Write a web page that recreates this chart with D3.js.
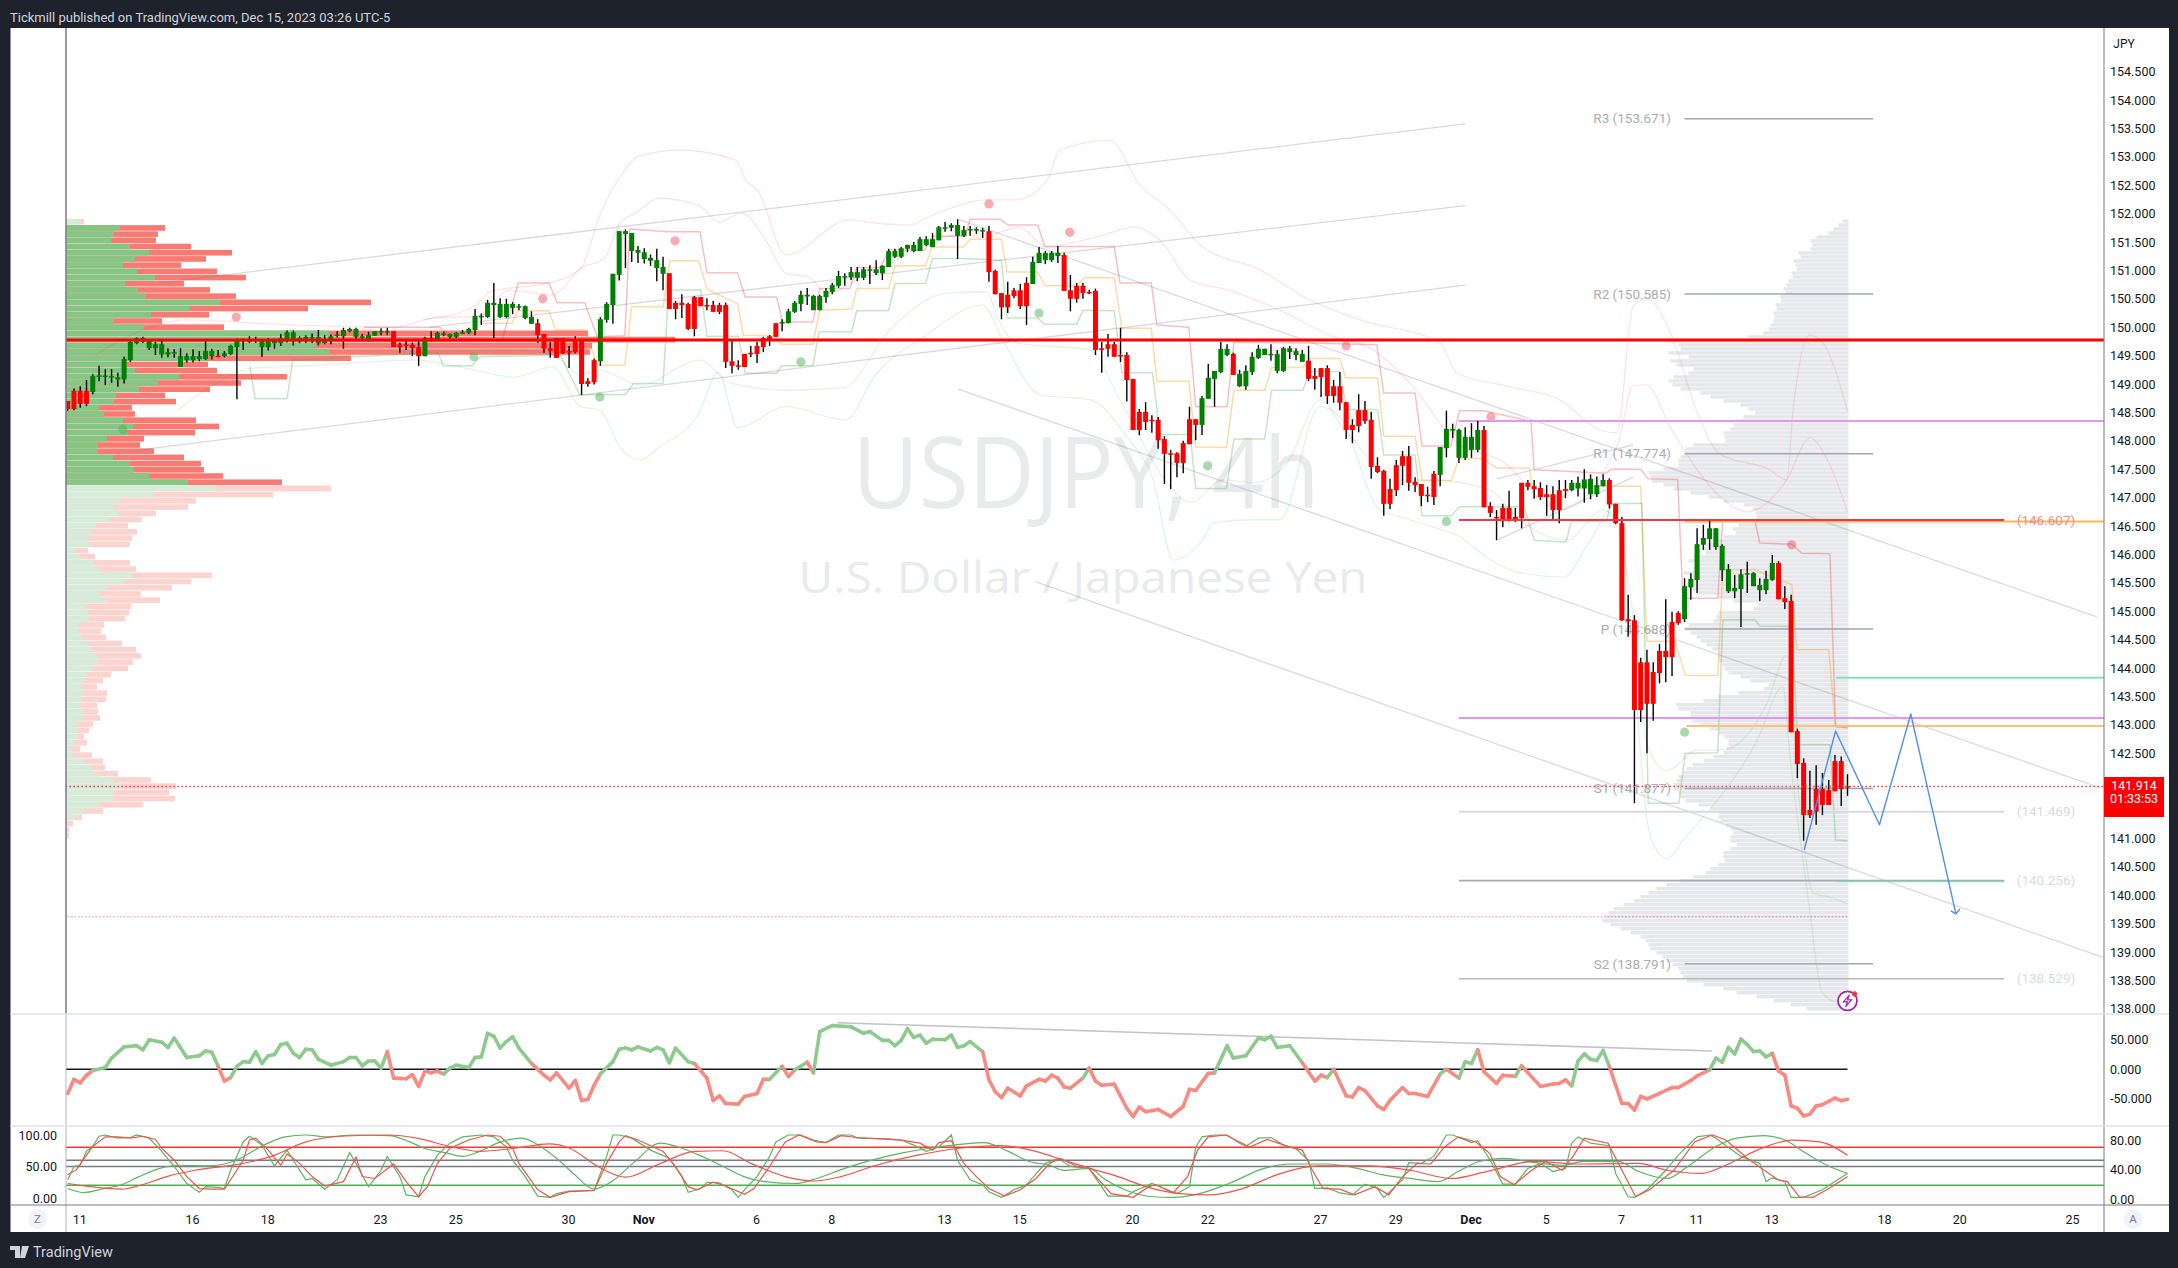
<!DOCTYPE html>
<html>
<head>
<meta charset="utf-8">
<script src="https://cdn.jsdelivr.net/npm/d3@7"></script>
<style>
  html, body { margin: 0; padding: 0; background: #1e222d; overflow: hidden; }
  text { font-family: Roboto, sans-serif; }
</style>
</head>
<body>
<svg id="chart" width="2178" height="1268"></svg>
<script>
// candles, one value per 4h bar
const opens = [
  148.70,148.88,148.88,148.88,148.86,149.14,149.13,149.13,149.08,149.08,
  149.42,149.72,149.74,149.63,149.63,149.52,149.52,149.55,149.30,149.42,
  149.42,149.44,149.44,149.49,149.50,149.49,149.53,149.65,149.77,149.74,
  149.78,149.65,149.65,149.72,149.72,149.76,149.75,149.75,149.79,149.82,
  149.72,149.72,149.76,149.86,149.84,149.93,149.83,149.81,149.79,149.85,
  149.92,149.92,149.93,149.70,149.70,149.69,149.65,149.49,149.81,149.77,
  149.86,149.83,149.83,149.90,149.90,149.95,150.19,150.18,150.39,150.18,
  150.18,150.34,150.36,150.16,150.06,150.07,149.88,149.63,149.81,149.81,
  149.58,149.77,149.78,149.05,149.42,149.40,150.13,150.39,150.92,151.64,
  151.34,151.31,151.20,151.17,151.04,150.94,150.95,150.43,150.43,150.41,
  150.53,150.53,150.39,150.39,150.39,150.39,149.40,149.33,149.53,149.55,
  149.67,149.81,149.84,150.07,150.07,150.07,150.27,150.41,150.54,150.30,
  150.30,150.53,150.62,150.73,150.89,150.88,150.87,150.87,151.01,150.95,
  150.95,151.06,151.24,151.24,151.38,151.34,151.34,151.45,151.41,151.53,
  151.75,151.75,151.61,151.61,151.72,151.70,151.70,151.69,150.99,150.60,
  150.57,150.65,150.65,150.78,150.76,151.13,151.18,151.18,151.25,151.27,
  150.65,150.73,150.73,150.62,150.64,149.63,149.70,149.70,149.51,149.51,
  149.09,148.51,148.51,148.37,148.37,148.03,147.78,147.78,147.96,148.38,
  148.38,148.28,148.74,149.09,149.21,149.51,149.53,148.96,148.96,149.21,
  149.46,149.51,149.52,149.23,149.23,149.56,149.51,149.39,149.41,149.14,
  149.28,149.28,148.96,148.96,148.68,148.28,148.54,148.54,148.37,147.56,
  147.47,147.15,147.57,147.73,147.73,147.28,147.24,147.05,147.42,147.40,
  147.87,148.18,147.70,147.70,147.84,147.84,148.19,146.85,146.66,146.82,
  146.82,146.66,147.26,147.26,147.20,147.17,147.06,147.06,147.13,147.15,
  147.13,147.16,147.16,147.06,147.06,147.20,147.31,146.89,146.55,144.86,
  144.84,144.10,144.10,143.93,144.30,144.30,144.81,144.97,144.86,145.42,
  145.55,146.17,146.27,146.13,145.72,145.35,145.35,145.39,145.65,145.44,
  145.37,145.37,145.55,145.85,145.23,145.18,142.89,142.33,141.50,141.87,
  141.87,141.85,142.36,142.36,141.92
]
const highs = [
  148.70,148.92,148.96,149.07,149.17,149.32,149.26,149.26,149.20,149.48,
  149.79,149.82,149.83,149.79,149.74,149.76,149.63,149.61,149.63,149.54,
  149.61,149.58,149.76,149.62,149.60,149.58,149.69,149.80,149.80,149.84,
  149.83,149.79,149.81,149.80,149.88,149.94,149.94,149.84,149.86,149.89,
  149.95,149.86,149.87,149.93,149.99,149.99,149.99,149.88,149.92,149.93,
  149.98,149.99,149.93,149.73,149.79,149.73,149.76,149.83,149.93,149.92,
  149.92,149.89,149.91,149.95,149.99,150.32,150.24,150.48,150.78,150.51,
  150.50,150.44,150.41,150.38,150.28,150.14,149.88,149.74,149.81,149.81,
  149.67,149.84,149.80,149.10,149.45,150.18,150.44,150.94,151.69,151.72,
  151.66,151.43,151.39,151.28,151.38,151.24,150.95,150.46,150.58,150.43,
  150.55,150.53,150.51,150.46,150.43,150.43,149.76,149.42,149.53,149.67,
  149.74,149.83,149.86,150.07,150.14,150.32,150.46,150.64,150.69,150.57,
  150.57,150.69,150.78,150.99,150.95,151.06,151.06,151.06,151.09,151.18,
  151.09,151.38,151.38,151.41,151.45,151.50,151.59,151.60,151.66,151.78,
  151.85,151.83,151.90,151.78,151.78,151.76,151.75,151.78,151.01,150.60,
  150.80,150.69,150.76,150.88,151.24,151.41,151.34,151.34,151.43,151.31,
  150.92,150.78,150.78,150.66,150.68,149.74,149.88,149.74,149.99,149.56,
  149.09,148.56,148.68,148.45,148.42,148.08,147.84,147.80,148.00,148.60,
  148.38,148.79,149.35,149.23,149.74,149.70,149.55,149.25,149.33,149.56,
  149.69,149.62,149.70,149.60,149.65,149.67,149.63,149.60,149.67,149.28,
  149.28,149.33,149.07,149.21,148.68,148.38,148.82,148.70,148.51,147.71,
  147.49,147.33,147.66,147.82,147.91,147.36,147.24,147.19,147.47,147.89,
  148.53,148.30,148.21,148.24,148.31,148.35,148.26,146.92,146.78,146.89,
  147.12,146.82,147.26,147.31,147.31,147.27,147.22,147.20,147.31,147.31,
  147.31,147.37,147.50,147.41,147.37,147.41,147.34,146.89,146.66,145.29,
  144.93,144.18,144.32,144.10,144.42,145.21,144.99,145.00,145.58,145.67,
  146.46,146.52,146.59,146.46,146.18,145.83,145.64,145.74,145.87,145.69,
  145.58,145.71,145.99,145.88,145.44,145.29,142.93,142.41,142.19,142.29,
  142.15,142.03,142.47,142.44,142.13
]
const lows = [
  148.53,148.54,148.58,148.61,148.82,149.05,148.98,149.02,148.95,149.01,
  149.39,149.70,149.72,149.60,149.51,149.46,149.47,149.46,149.30,149.38,
  149.38,149.40,149.42,149.43,149.47,149.47,149.51,148.73,149.60,149.72,
  149.72,149.48,149.59,149.62,149.67,149.73,149.68,149.72,149.72,149.72,
  149.68,149.70,149.70,149.82,149.62,149.91,149.80,149.77,149.75,149.85,
  149.86,149.86,149.65,149.55,149.60,149.49,149.32,149.49,149.75,149.76,
  149.84,149.79,149.81,149.88,149.88,149.86,150.04,150.16,149.81,150.16,
  150.16,150.23,150.30,150.14,150.06,149.72,149.55,149.46,149.46,149.53,
  149.28,149.54,148.81,148.95,148.99,149.32,150.08,150.06,150.82,151.04,
  151.15,151.13,151.12,151.08,150.81,150.65,150.32,150.14,150.16,149.95,
  149.84,150.37,150.30,150.27,150.23,149.28,149.19,149.25,149.30,149.47,
  149.37,149.56,149.67,149.83,149.93,150.07,150.25,150.28,150.39,150.30,
  150.30,150.43,150.58,150.69,150.73,150.83,150.81,150.83,150.76,150.92,
  150.83,151.06,151.22,151.22,151.32,151.32,151.34,151.43,151.41,151.53,
  151.68,151.69,151.20,151.59,151.61,151.64,151.57,150.80,150.58,150.14,
  150.25,150.51,150.32,150.04,150.76,151.13,151.11,151.15,151.13,150.64,
  150.28,150.43,150.50,150.58,149.51,149.20,149.48,149.48,149.39,148.69,
  148.19,148.10,148.19,148.14,147.86,147.24,147.15,147.36,147.43,147.94,
  148.01,148.10,148.74,148.60,149.19,149.49,149.16,148.95,148.90,149.16,
  149.44,149.51,149.41,149.19,149.21,149.44,149.42,149.39,149.05,148.90,
  148.77,148.65,148.67,148.54,148.03,147.96,148.15,148.30,147.33,147.43,
  146.68,146.80,147.03,147.22,147.12,147.10,146.85,146.92,146.87,147.20,
  147.71,148.05,147.61,147.66,147.70,147.80,146.83,146.66,146.25,146.48,
  146.58,146.57,146.46,147.13,146.98,146.96,146.68,146.62,146.55,146.99,
  147.11,147.02,146.91,146.97,147.01,147.20,146.81,146.53,144.83,144.55,
  141.62,143.05,142.50,143.07,143.73,143.75,143.86,144.76,144.81,145.20,
  145.32,146.08,146.08,146.08,145.53,145.32,145.23,144.72,145.32,145.44,
  145.18,145.30,145.53,145.21,145.04,142.87,142.06,140.96,141.36,141.24,
  141.41,141.59,141.83,141.57,141.75
]
const closes = [
  148.56,148.56,148.65,148.65,149.14,149.15,149.15,149.14,149.12,149.44,
  149.74,149.81,149.81,149.76,149.70,149.70,149.56,149.56,149.49,149.49,
  149.49,149.49,149.58,149.58,149.49,149.54,149.67,149.77,149.78,149.79,
  149.79,149.77,149.77,149.77,149.81,149.91,149.91,149.81,149.83,149.83,
  149.83,149.77,149.84,149.87,149.95,149.97,149.97,149.84,149.86,149.93,
  149.93,149.93,149.65,149.65,149.67,149.63,149.49,149.81,149.79,149.90,
  149.89,149.88,149.90,149.91,149.97,150.20,150.20,150.43,150.43,150.41,
  150.41,150.41,150.37,150.37,150.18,149.86,149.62,149.58,149.46,149.54,
  149.55,149.56,149.00,149.00,149.03,150.14,150.41,150.94,151.69,151.69,
  151.66,151.36,151.32,151.22,151.18,151.06,150.32,150.32,150.39,149.97,
  149.97,150.37,150.37,150.27,150.27,149.39,149.32,149.31,149.30,149.53,
  149.53,149.65,149.76,149.83,150.09,150.28,150.43,150.57,150.57,150.55,
  150.55,150.64,150.74,150.90,150.90,150.97,150.97,151.02,151.02,151.02,
  151.08,151.34,151.34,151.39,151.45,151.45,151.55,151.55,151.55,151.76,
  151.76,151.80,151.80,151.71,151.73,151.73,151.71,150.97,150.58,150.35,
  150.35,150.55,150.37,150.37,151.15,151.31,151.31,151.31,151.31,150.64,
  150.50,150.50,150.60,150.61,149.60,149.60,149.62,149.48,149.50,149.07,
  148.19,148.19,148.33,148.35,148.01,147.77,147.77,147.61,147.61,147.94,
  148.28,148.75,149.11,149.23,149.62,149.62,149.16,149.18,149.23,149.48,
  149.62,149.62,149.53,149.53,149.63,149.63,149.58,149.53,149.09,149.09,
  149.12,148.79,148.79,148.67,148.19,148.19,148.26,148.35,147.54,147.45,
  146.89,146.89,147.13,147.56,147.26,147.22,147.03,147.03,147.01,147.89,
  148.21,148.21,148.19,148.07,148.07,148.19,146.83,146.73,146.65,146.62,
  146.61,146.61,146.64,147.19,147.15,147.01,147.01,146.78,146.78,147.12,
  147.26,147.26,147.32,147.33,147.22,147.31,146.88,146.55,144.84,144.82,
  143.26,143.26,143.37,143.37,143.91,144.19,144.19,144.79,145.44,145.57,
  146.18,146.29,146.46,146.46,146.15,145.74,145.41,145.65,145.67,145.67,
  145.46,145.57,145.85,145.21,145.16,142.87,142.31,141.41,141.41,141.47,
  141.59,141.59,141.83,141.87,141.914
]

const priceTicks = d3.range(138, 154.75, 0.5)
const timeBars = [2,20,32,50,62,80,92,110,122,140,152,170,182,200,212,224,236,248,260,272,290,302,320]
const timeLabels = ['11','16','18','23','25','30','Nov','6','8','13','15','20','22','27','29','Dec','5','7','11','13','18','20','25']

// left volume profile, buy part and whole row
const leftBuy = [13,54,48,45,64,83,69,57,71,89,59,72,80,154,123,85,48,78,263,270,250,264,141,60,69,113,92,73,50,48,33,38,57,67,61,41,32,32,47,64,68,83,122,149,87,54,47,53,43,30,26,22,25,10,14,27,34,67,58,42,33,40,19,22,23,13,13,15,22,26,31,32,26,20,17,16,17,15,13,15,17,12,11,11,9,5,7,17,26,32,48,55,48,47,34,17,9,2,0,0]
const leftTotal = [18,99,92,90,125,166,140,115,151,180,118,144,170,305,242,143,96,158,522,609,526,524,285,142,151,221,175,144,99,110,66,69,130,153,129,78,74,88,118,135,138,157,216,265,207,130,122,90,76,62,71,66,64,22,29,64,70,146,125,106,75,94,65,63,59,38,35,40,56,70,75,67,62,45,37,31,41,40,31,32,34,27,23,18,21,14,26,37,39,52,85,110,103,109,77,37,16,7,3,3]
const leftRowTop = 151.857
const leftRowStep = 0.1092

// right volume profile
const rightVolume = [
  6,10,15,20,32,38,36,38,50,48,55,53,52,57,56,60,62,65,63,68,67,73,72,75,74,
  75,78,80,85,100,182,170,168,180,160,178,172,155,160,175,180,176,168,148,138,125,108,100,93,105,
  113,115,118,125,124,123,155,163,163,168,170,170,185,200,198,197,185,175,158,140,125,105,96,93,92,
  95,110,116,113,125,132,142,146,143,155,160,152,155,165,158,155,160,158,150,130,115,90,95,130,132,
  135,160,163,158,152,148,142,136,130,130,130,126,124,120,108,98,80,85,110,130,145,172,170,158,158,
  156,148,138,130,124,120,120,122,125,135,145,156,162,165,170,172,175,174,170,168,163,150,138,130,130,
  128,122,118,115,118,118,112,118,125,125,124,130,138,143,155,168,182,192,200,208,214,225,235,240,243,
  246,238,228,218,208,203,200,198,192,186,182,176,170,168,165,162,145,125,112,92,75,58,42
]
const rightRowTop = 151.87
const rightRowStep = 0.0704

// step lines [bar, price]
const redStep = [[47.3,150.00],[59.3,150.00],[61.6,149.81],[69.3,149.77],[71.9,150.78],[76.8,150.78],[78.1,150.43],[82.5,150.43],[84.5,149.83],[88.9,149.85],[89.7,151.73],[95.8,151.68],[100.9,151.68],[102,150.96],[106.9,150.96],[108.1,150.53],[113.1,150.53],[114.1,150.09],[118.9,150.09],[120,150.68],[124.8,150.68],[125.9,151.05],[129.6,151.05],[131.2,151.36],[136.8,151.36],[138.1,151.60],[143.2,151.60],[144,151.90],[148.8,151.90],[150,151.80],[154.8,151.80],[155.9,151.42],[167,151.42],[167.9,150.78],[172.9,150.78],[173.8,150.04],[178.9,150.00],[180,148.60],[185,148.60],[186.1,149.74],[198.2,149.72],[208.9,149.69],[210,148.84],[215,148.84],[216.1,147.91],[220.7,147.91],[222.1,148.53],[226,148.53],[233.5,148.34],[234,147.49],[245.5,147.43],[246.3,147.50],[251,147.50],[252.2,147.33],[256.9,147.32],[257.7,145.32],[258,145.23],[263.3,145.23],[264.1,146.61],[269.2,146.61],[270,146.20],[275.1,146.18],[276.7,146.02],[281.2,146.01],[282.1,142.97],[284,142.95]]
const orangeStep = [[66.1,150.07],[70.9,150.07],[71.8,150.29],[76.8,150.29],[77.8,149.95],[82.5,149.95],[83.8,149.55],[84.6,149.33],[88.9,149.33],[90,150.36],[95,150.36],[96.1,151.17],[100.7,151.17],[102,150.67],[106.9,150.41],[107.8,149.86],[112.9,149.85],[113.9,149.70],[118.9,149.70],[120,150.30],[125.1,150.32],[125.9,150.68],[131,150.68],[132,151.08],[136.9,151.08],[137.9,151.41],[142.9,151.41],[144,151.55],[149,151.55],[149.9,150.97],[154.8,150.97],[155.9,150.73],[161,150.73],[162.2,150.87],[167,150.87],[168.2,149.98],[172.9,149.98],[173.8,149.05],[178.9,149.05],[180,147.89],[184.9,147.88],[186.1,148.89],[191,148.89],[192.1,149.29],[197.1,149.29],[198.2,149.45],[203,149.45],[203.9,149.11],[209,149.11],[210,148.08],[215,148.08],[216.1,147.30],[220.8,147.30],[222,147.69],[225.8,147.69],[228,147.52],[233.2,147.52],[234,147.02],[238.8,147.02],[239.9,147.20],[251,147.20],[252,144.47],[256.5,144.47],[258.1,143.87],[263.3,143.87],[264.1,145.73],[269.2,145.73],[275.1,145.47],[275.9,144.32],[281,144.32],[282.1,142.97],[284,142.95]]
const greenStep = [[29.1,149.30],[29.9,148.74],[35,148.74],[35.9,149.42],[59.1,149.56],[59.9,149.32],[64.5,149.32],[65.8,149.48],[78.6,149.51],[81.7,148.81],[89,148.81],[90.3,149.01],[95,149.01],[95.9,150.65],[101,150.66],[102,149.84],[107,149.84],[108.1,149.19],[113.1,149.19],[113.9,149.32],[118.9,149.32],[119.9,149.92],[125.1,149.92],[125.9,150.29],[131,150.29],[132,150.77],[136.9,150.77],[138,151.21],[142.9,151.21],[149,151.18],[149.9,150.16],[154.8,150.16],[155.9,150.05],[161,150.05],[162,150.30],[167,150.29],[168.2,149.20],[173.1,149.20],[174.3,148.11],[179.1,148.11],[180,147.16],[184.9,147.16],[186.1,148.03],[191,148.03],[192.1,148.89],[197.1,148.89],[198.2,149.22],[203,149.22],[204.1,148.55],[209,148.55],[210,147.75],[215,147.75],[216.1,146.68],[220.8,146.68],[222.1,146.84],[232.4,146.84],[234,146.25],[239.1,146.22],[239.9,146.58],[245.5,146.58],[246.3,146.89],[251.2,146.90],[252.2,141.62],[257.1,141.62],[258.1,142.50],[263.3,142.51],[264.1,144.85],[269.2,144.85],[270,144.74],[275.1,144.73],[276.1,142.65],[281.2,142.65],[282.1,140.97],[284,140.96]]

// faint envelope lines [bar, price]
const upperOuter = [[56.7,150.13],[64.8,150.36],[67.4,150.62],[77.4,150.80],[81.9,151.04],[84.9,151.97],[87.8,152.59],[91.2,153.01],[97.7,153.12],[106.6,152.94],[108.2,152.59],[110.1,152.41],[114.6,151.27],[124.7,151.89],[129.1,151.83],[134.1,151.80],[137.9,151.97],[146.7,152.24],[151.2,152.24],[156.3,152.59],[158.3,153.12],[166.3,153.29],[171.1,152.50],[175.9,152.06],[180.7,151.45],[190.2,151.01],[198.2,150.48],[206.2,150.13],[219,149.72],[221.7,149.19],[230.2,148.95],[238.1,148.72],[244.5,148.19],[247.2,148.14],[249.8,150.37],[252,150.51],[255.7,149.92],[260,148.51],[263.6,147.77],[271.6,147.49],[274.3,147.31],[275.3,148.51],[278,149.86],[280.1,149.72],[284,148.51]]
const upperInner = [[4.4,149.51],[10,149.86],[18.9,150.13],[35.5,150.04],[52.2,150.00],[59.3,150.18],[64.8,150.18],[70.6,150.65],[77.4,150.57],[81.9,151.04],[85.7,151.22],[88.1,151.83],[90.9,152.03],[94.3,152.27],[100.7,152.15],[103.8,151.85],[107.6,152.01],[111.4,151.53],[114.6,150.95],[118.3,150.88],[121.2,150.60],[125.9,150.83],[129.1,151.01],[135.4,151.36],[141.8,151.62],[146.7,151.62],[151.8,151.76],[156.3,151.41],[159.9,151.48],[164.4,151.59],[170.2,151.76],[174.3,151.53],[179.1,150.83],[185.4,150.65],[193.4,150.30],[201.4,149.86],[208.3,149.60],[214.7,148.95],[221.7,147.96],[228.6,147.66],[238.1,146.78],[247.4,147.96],[249.8,148.98],[252,148.98],[255.7,148.24],[263.6,147.03],[268,146.75],[274.3,147.31],[278,148.05],[281.2,147.57],[284,146.75]]
const lowerInner = [[59.4,149.56],[71.2,149.60],[77.4,149.51],[81.9,149.16],[84.9,149.25],[91.3,148.98],[100.9,149.42],[105.7,149.02],[114.8,148.89],[123.7,148.93],[131.2,149.95],[140.3,150.60],[146.7,150.62],[148.3,150.18],[151.6,149.72],[163.1,149.60],[167.9,148.72],[176.4,147.13],[179.1,146.91],[184.3,147.31],[189.1,147.26],[194.6,147.61],[199.8,148.72],[203.8,148.19],[212.6,147.31],[217.9,147.31],[227,147.13],[231.7,146.61],[239.2,146.25],[245,146.78],[246.9,146.61],[250.4,144.37],[252,142.65],[255.2,142.19],[260,142.56],[264.1,142.56],[271.2,143.39],[274.3,144.23],[276.4,141.54],[278.5,140.04],[281.7,139.95],[284,139.85]]
const lowerOuter = [[17.6,148.54],[21.9,148.89],[29.6,149.28],[39.6,149.33],[55.4,149.42],[64.8,149.25],[71.2,149.12],[77.4,149.30],[81.9,148.60],[84.9,148.54],[88.1,147.89],[91.3,147.66],[94.4,147.89],[100.7,148.49],[103.8,149.21],[106.9,148.23],[114.6,148.60],[124,148.37],[129.1,149.19],[136.6,149.83],[146,150.39],[149.2,149.77],[155.2,148.81],[163.2,148.72],[169,148.07],[173.2,147.31],[176.4,145.90],[179.1,146.03],[181.1,146.25],[182.7,146.55],[189.1,146.61],[193.4,146.61],[199.8,148.60],[203,148.42],[209.4,146.78],[212.6,146.66],[217.9,146.48],[222.2,146.31],[225.4,146.03],[231.3,145.69],[238.8,145.60],[242.3,146.13],[247.4,146.91],[249.3,144.85],[252,141.34],[253.6,140.78],[255.2,140.64],[257.8,140.97],[269.6,142.73],[273.7,143.67],[274.8,142.47],[277.5,140.13],[280.1,138.26],[283.3,138.09],[284,138.09]]

const redDots = [[26.9,150.18],[75.8,150.50],[96.9,151.52],[147,152.17],[159.9,151.67],[204,149.67],[227.1,148.42],[275.1,146.17]]
const greenDots = [[8.8,148.20],[64.8,149.48],[84.9,148.77],[117,149.39],[155,150.25],[181.9,147.56],[220,146.58],[258,142.87]]

// trend lines [bar, price, bar, price]
const trendLines = [
  [14.7,150.78,223,153.58],[57.8,150.0,223,152.14],[11.5,147.84,223,150.74],
  [142.1,151.90,323.8,144.90],[142.1,148.91,324.3,141.89],[154.4,145.52,324.9,138.90],
  [228.1,147.33,249.8,147.93],[228.1,146.25,249.8,147.36]
]
const projection = [[277.1,140.80],[282.1,142.89],[289.1,141.24],[294.1,143.19],[301.3,139.67]]

const pivotNames = ['R3','R2','R1','P','S1','S2']
const pivotPrices = [153.671,150.585,147.774,144.688,141.877,138.791]
const lastPrice = 141.914

// CCI pane [bar, value]
const cci = [[0,-41],[1,-17],[2,-23],[3,-10],[4,-2],[6,3],[7,19],[9,38],[11,40],[12,33],[13,50],[15,46],[16,37],[17,53],[19,20],[21,23],[22,31],[23,29],[24,5],[25,-20],[26,-14],[27,5],[28,13],[29,12],[30,30],[31,10],[32,23],[33,25],[34,42],[35,44],[36,27],[37,20],[38,34],[39,33],[40,17],[42,7],[44,13],[45,20],[46,20],[47,6],[48,14],[49,14],[50,2],[51,30],[52,-15],[54,-16],[55,-9],[56,-29],[57,-3],[58,-6],[59,-3],[60,-8],[61,2],[62,7],[64,3],[65,20],[66,21],[67,61],[68,56],[69,36],[70,47],[71,55],[72,36],[74,10],[76,-10],[77,-18],[78,-6],[80,-32],[81,-19],[82,-53],[83,-51],[84,-27],[85,-8],[87,13],[88,34],[89,36],[90,33],[91,38],[93,31],[94,37],[95,33],[96,11],[97,36],[99,13],[100,10],[102,-15],[103,-53],[104,-45],[105,-58],[107,-59],[108,-46],[110,-41],[111,-17],[112,-17],[114,5],[115,-12],[116,-1],[118,12],[119,-6],[120,64],[122,74],[125,72],[127,61],[128,64],[130,49],[131,49],[132,40],[133,49],[134,69],[135,54],[136,58],[137,44],[138,51],[140,50],[141,58],[142,37],[143,40],[144,47],[146,30],[147,-18],[148,-38],[149,-48],[150,-32],[152,-45],[153,-28],[155,-17],[156,-20],[157,-10],[158,-15],[159,-30],[160,-32],[162,-15],[163,2],[164,-20],[165,-27],[167,-25],[169,-66],[170,-80],[171,-64],[172,-72],[174,-68],[176,-80],[178,-63],[179,-34],[180,-36],[182,-7],[183,-6],[185,40],[186,19],[188,23],[190,53],[191,50],[192,56],[193,37],[195,40],[197,11],[199,-20],[200,-10],[201,-14],[202,0],[204,-45],[205,-47],[206,-31],[207,-36],[209,-62],[210,-68],[211,-53],[213,-31],[214,-41],[215,-41],[217,-46],[219,-8],[220,0],[222,-15],[223,13],[224,10],[225,33],[226,-4],[228,-24],[229,-10],[231,-12],[232,6],[235,-29],[237,-25],[238,-24],[239,-18],[240,-28],[241,14],[242,26],[243,17],[244,15],[245,32],[246,5],[247,-27],[248,-58],[249,-58],[250,-69],[251,-46],[252,-50],[254,-41],[256,-31],[257,-31],[259,-19],[260,-11],[262,-1],[263,19],[264,12],[265,37],[266,26],[267,51],[268,42],[269,30],[270,31],[271,21],[272,27],[273,-3],[274,-10],[275,-62],[276,-66],[277,-79],[278,-76],[279,-62],[280,-60],[282,-49],[283,-53],[284,-51]]
const cciTrend = [[122.8,79],[262.4,31]]
const cciTicks = [50,0,-50]

// stochastic pane [bar, value]
const fastGreen = [[0,29],[1,50],[2,52],[3,74],[4,82],[5,98],[6,100],[8,95],[10,96],[11,100],[13,95],[15,74],[17,50],[19,23],[21,9],[22,18],[24,17],[25,15],[26,44],[28,89],[29,98],[31,84],[33,51],[35,76],[36,60],[38,29],[39,31],[41,14],[43,29],[45,72],[46,55],[48,18],[50,44],[51,66],[53,34],[54,5],[56,2],[57,34],[59,68],[61,87],[63,97],[66,100],[68,97],[70,81],[71,60],[73,34],[75,3],[77,1],[78,7],[80,11],[84,12],[86,66],[87,100],[88,100],[90,95],[93,76],[96,63],[98,34],[99,9],[101,15],[102,25],[104,24],[106,13],[107,1],[108,13],[110,34],[112,66],[113,89],[115,100],[117,100],[119,92],[121,88],[123,100],[125,100],[126,95],[131,94],[133,92],[135,84],[137,74],[139,81],[141,100],[142,60],[144,29],[146,21],[147,10],[149,1],[151,13],[153,21],[155,44],[156,55],[158,63],[160,50],[163,47],[166,3],[169,3],[170,10],[173,23],[175,15],[177,7],[179,18],[180,81],[181,97],[183,100],[185,100],[187,87],[188,82],[190,95],[192,96],[194,84],[196,78],[198,60],[199,15],[201,16],[203,8],[205,5],[207,22],[209,15],[210,1],[213,29],[214,56],[216,55],[218,66],[220,100],[221,100],[224,88],[225,91],[227,60],[229,22],[231,22],[233,47],[235,55],[237,42],[239,47],[240,87],[241,97],[243,87],[246,83],[247,39],[249,2],[250,1],[252,13],[255,44],[257,68],[260,97],[262,100],[263,95],[267,66],[270,55],[271,26],[272,32],[274,26],[275,1],[277,1],[280,13],[282,26],[284,39]]
const fastRed = [[0,37],[1.4,45],[3,68],[4,82],[6,97],[8,97],[10,95],[12,98],[14,93],[15,79],[17,60],[19,34],[21,15],[23,14],[25,14],[26,29],[28,60],[29,92],[30,95],[32,76],[34,52],[35,70],[37,55],[39,34],[41,19],[44,26],[46,65],[47,34],[49,31],[52,54],[54,26],[56,2],[57.4,18],[59,55],[61,79],[64,92],[67,100],[69,98],[71,79],[72,55],[75,13],[77,1],[80,10],[84,12],[86,55],[88,89],[89,99],[91,92],[95,74],[97,50],[99,18],[100.4,13],[103,25],[105,19],[108,6],[109.5,15],[112,50],[114.5,89],[116.7,100],[119.5,89],[121,88],[123.4,99],[126,96],[131,93],[133,92],[136,87],[138,76],[139,88],[141,91],[143,55],[145,34],[147,15],[149.5,3],[152,13],[154.5,31],[156.7,55],[158.4,63],[161,50],[163,46],[166.5,7],[170,1],[172.5,18],[173.7,21],[176.4,8],[178.7,34],[180.3,76],[182,97],[184.8,100],[187,89],[188.6,81],[191.4,93],[194.7,82],[197,76],[198.6,44],[200.3,15],[203,14],[205.3,5],[208.6,18],[210.8,5],[213,34],[215.3,55],[217.5,54],[219.7,81],[221.9,97],[224.7,89],[226.9,71],[228.6,34],[230.8,21],[233.6,44],[235.8,58],[238.5,44],[240.2,66],[242,95],[245.8,87],[248,44],[250.2,2],[252.4,13],[256.3,44],[259.6,89],[262.4,100],[264.6,92],[268,63],[270.7,44],[272.9,29],[274.4,26],[276.3,2],[278.5,1],[280.7,13],[282.3,23],[284,34]]
const slowGreen = [[0,15],[2.5,8.5],[5.8,15],[8.6,21],[11.4,34],[14.7,47],[18,52],[22.5,51],[26.9,60],[31.3,84],[34.7,97],[38,100],[41.3,97],[45.8,100],[51.3,99],[54.6,89],[56.9,79],[60.2,72],[63,66],[65.7,74],[69.1,89],[72.4,95],[74.6,87],[78,63],[80.7,39],[84,14],[86.8,26],[90.2,55],[94.6,87],[97.4,81],[101.2,66],[104.6,50],[107.9,34],[111.2,26],[116.2,23],[119.5,31],[124,47],[127.9,59],[133.4,72],[139,81],[146.2,88],[150.1,74],[153.4,58],[156.7,52],[158.9,44],[163.1,47],[165.3,31],[168.7,13],[173.1,2],[176.4,1],[179.8,5],[185.3,23],[190.9,47],[195.3,54],[200.8,54],[205.8,47],[209.7,37],[214.2,31],[218.6,26],[221.9,42],[225.2,58],[229.1,63],[234.1,56],[238.5,52],[241.9,58],[247.4,58],[250.7,42],[255.2,31],[258.5,50],[262.9,81],[266.3,95],[270.7,99],[274,92],[277.4,71],[280.7,52],[284,39]]
const slowRed = [[0,23],[3.6,18],[8.6,14],[11.9,21],[15.8,34],[20.3,44],[26.9,53],[32.5,66],[38,89],[43.5,98],[51.3,100],[55.7,95],[61.3,81],[65.7,74],[71.3,79],[76.8,86],[80.1,79],[84.6,50],[89,33],[94.6,55],[100.1,74],[104.6,75],[109,55],[114.5,34],[119,27],[123.4,34],[129,52],[135.6,68],[142.3,79],[148.9,83],[154.5,74],[158.9,60],[163.1,47],[167.6,34],[172,18],[177.5,7],[182,5],[187.5,15],[193,37],[199.7,51],[207.5,51],[214.2,44],[220.8,31],[226.4,42],[234.1,58],[240.8,54],[250.7,55],[255.2,44],[260.7,39],[265.2,55],[269.6,76],[275.2,92],[279.6,89],[284,68]]
const stochLeftTicks = [100,50,0]
const stochRightTicks = [80,40,0]

const svg = d3.select('#chart')

const paneLeft = 66, paneRight = 2104, outerLeft = 10.5, outerRight = 2169
const mainTop = 28, mainBottom = 1014, cciBottom = 1126, stochBottom = 1205, timeBottom = 1232

const x = d3.scaleLinear().domain([0, 284]).range([67.7, 1847.5])
const y = d3.scaleLinear().domain([149, 141]).range([384, 838.4])
const yCci = d3.scaleLinear().domain([50, -50]).range([1039.8, 1098.8])
const yStoch = d3.scaleLinear().domain([100, 0]).range([1135, 1198])
const yStochRight = d3.scaleLinear().domain([80, 0]).range([1140, 1199])
const vol = d3.scaleLinear().domain([0, 100]).range([paneLeft, paneLeft + 100])

svg.append('rect').attr('x', outerLeft).attr('y', mainTop)
  .attr('width', outerRight - outerLeft).attr('height', timeBottom - mainTop).attr('fill', '#fff')

svg.append('defs').append('clipPath').attr('id', 'mainClip').append('rect')
  .attr('x', paneLeft).attr('y', mainTop).attr('width', paneRight - paneLeft).attr('height', mainBottom - mainTop)

const main = svg.append('g').attr('clip-path', 'url(#mainClip)')

// volume profiles sit at the back
const rightX = x(284) + 1
main.append('g').selectAll('rect').data(rightVolume).join('rect')
  .attr('x', d => rightX - d)
  .attr('y', (d, i) => y(rightRowTop - i * rightRowStep) - 1.7)
  .attr('width', d => d)
  .attr('height', 3.4)
  .attr('fill', '#e6e7eb')

main.append('text').attr('x', 1086).attr('y', 508).attr('text-anchor', 'middle')
  .attr('textLength', 467).attr('lengthAdjust', 'spacingAndGlyphs')
  .style('font-family', '"Open Sans"').style('font-size', '98px').attr('fill', '#e9eaec')
  .text('USDJPY, 4h')
main.append('text').attr('x', 1083).attr('y', 593).attr('text-anchor', 'middle')
  .attr('textLength', 569).attr('lengthAdjust', 'spacingAndGlyphs')
  .style('font-family', '"Open Sans"').style('font-size', '44px').attr('fill', '#e9eaec')
  .text('U.S. Dollar / Japanese Yen')

const leftRows = main.append('g')
leftTotal.forEach((t, k) => {
  const inArea = k >= 1 && k <= 42
  const rowY = y(leftRowTop - k * leftRowStep) - 2.8
  leftRows.append('rect').attr('x', vol(0)).attr('y', rowY)
    .attr('width', vol(t) - vol(0)).attr('height', 5.6)
    .attr('fill', inArea ? '#f97a72' : '#fdd3cf')
  leftRows.append('rect').attr('x', vol(0)).attr('y', rowY)
    .attr('width', vol(leftBuy[k]) - vol(0)).attr('height', 5.6)
    .attr('fill', inArea ? '#82c784' : '#d5ecd8')
})

const priceLine = d3.line().x(d => x(d[0])).y(d => y(d[1]))

function drawPath(data, color, width, gen) {
  return main.append('path').datum(data)
    .attr('fill', 'none').attr('stroke', color).attr('stroke-width', width)
    .attr('stroke-linejoin', 'round').attr('d', gen || priceLine)
}

// envelopes are smooth in the reference, steps are not
const smoothLine = d3.line().x(d => x(d[0])).y(d => y(d[1])).curve(d3.curveMonotoneX)
drawPath(upperOuter, 'rgba(242,54,69,0.14)', 1.3, smoothLine)
drawPath(upperInner, 'rgba(242,54,69,0.14)', 1.3, smoothLine)
drawPath(lowerInner, 'rgba(76,175,80,0.15)', 1.3, smoothLine)
drawPath(lowerOuter, 'rgba(76,175,80,0.15)', 1.3, smoothLine)
drawPath(redStep, 'rgba(242,54,69,0.32)', 1.5)
drawPath(orangeStep, 'rgba(255,152,0,0.35)', 1.5)
drawPath(greenStep, 'rgba(76,175,80,0.32)', 1.5)

main.append('g').selectAll('circle').data(redDots).join('circle')
  .attr('cx', d => x(d[0])).attr('cy', d => y(d[1])).attr('r', 4.6).attr('fill', 'rgba(242,54,69,0.42)')
main.append('g').selectAll('circle').data(greenDots).join('circle')
  .attr('cx', d => x(d[0])).attr('cy', d => y(d[1])).attr('r', 4.6).attr('fill', 'rgba(76,175,80,0.48)')

main.append('g').selectAll('line').data(trendLines).join('line')
  .attr('x1', d => x(d[0])).attr('y1', d => y(d[1]))
  .attr('x2', d => x(d[2])).attr('y2', d => y(d[3]))
  .attr('stroke', 'rgba(120,123,134,0.28)').attr('stroke-width', 1.3)

function hline(price, barFrom, barTo, color, width, dash) {
  main.append('line')
    .attr('x1', x(barFrom)).attr('x2', x(barTo))
    .attr('y1', y(price)).attr('y2', y(price))
    .attr('stroke', color).attr('stroke-width', width)
    .attr('stroke-dasharray', dash || null)
}

// pivots
pivotPrices.forEach((p, i) => {
  hline(p, 258, 288.1, '#a3a6af', 1.5)
  main.append('text').attr('x', 1671).attr('y', y(p)).attr('dy', '0.35em')
    .attr('text-anchor', 'end').style('font-size', '13.5px').attr('fill', '#a9acb4')
    .text(`${pivotNames[i]} (${p.toFixed(3)})`)
})

// drawn levels
hline(148.35, 222, 325, '#e297f0', 2)
hline(143.12, 222, 325, '#e297f0', 2)
hline(146.58, 258, 325, '#ffb74d', 2)
hline(142.98, 258.3, 325, '#ffc078', 2)
hline(143.83, 282.2, 325, '#7fe3b8', 2)
hline(141.469, 222, 309, '#d8dae0', 2)
hline(140.256, 222, 309, '#a8abb3', 1.6)
hline(140.24, 282.2, 309, '#7fe3b8', 1.2)
hline(138.529, 222, 309, '#b8bac2', 1.6)
hline(139.62, 0, 284, 'rgba(242,54,69,0.6)', 1, '1.5 2')

const levelNotes = [[146.607, '#f78a80'], [141.469, '#d8dae0'], [140.256, '#d8dae0'], [138.529, '#d8dae0']]
levelNotes.forEach(n => {
  main.append('text').attr('x', 2046).attr('y', y(n[0])).attr('dy', '0.35em')
    .attr('text-anchor', 'middle').style('font-size', '13.5px').attr('fill', n[1])
    .text(`(${n[0].toFixed(3)})`)
})

// candles
const candles = main.append('g')
closes.forEach((c, i) => {
  const o = opens[i]
  const up = c >= o
  candles.append('line').attr('x1', x(i)).attr('x2', x(i))
    .attr('y1', y(highs[i])).attr('y2', y(lows[i]))
    .attr('stroke', '#000').attr('stroke-width', 1.4)
  candles.append('rect').attr('x', x(i) - 2.5).attr('width', 5)
    .attr('y', y(Math.max(o, c)))
    .attr('height', Math.max(1.5, Math.abs(y(o) - y(c))))
    .attr('fill', up ? '#008000' : '#ff0000')
})

hline(149.775, -1, 325, '#ff0000', 3)
hline(146.607, 222, 309, '#f23645', 2)
hline(lastPrice, -1, 325, '#f23645', 1.4, '1.5 2.5')

// projected path and its arrow head
drawPath(projection, '#4f8ff0', 1.4)
const tip = projection[projection.length - 1]
main.append('path')
  .attr('d', `M${x(tip[0]) - 5},${y(tip[1]) - 3}L${x(tip[0])},${y(tip[1])}L${x(tip[0]) + 4},${y(tip[1]) - 5}`)
  .attr('fill', 'none').attr('stroke', '#4f8ff0').attr('stroke-width', 1.4)

// lightning badge
const badge = main.append('g').attr('transform', `translate(${x(284)},${y(138.14)})`)
badge.append('circle').attr('r', 9.5).attr('fill', '#fff').attr('stroke', '#9c27b0').attr('stroke-width', 1.8)
badge.append('path').attr('d', 'M2,-6L-4,1L0,1L-2,6L4,-1L0,-1Z').attr('fill', '#fff').attr('stroke', '#9c27b0').attr('stroke-width', 1.2)
badge.append('circle').attr('cx', 7).attr('cy', -7).attr('r', 2.6).attr('fill', '#f23645')

// CCI pane
const cciLine = d3.line().x(d => x(d[0])).y(d => yCci(d[1]))
svg.append('line').attr('x1', paneLeft).attr('x2', x(284)).attr('y1', yCci(0)).attr('y2', yCci(0))
  .attr('stroke', '#131722').attr('stroke-width', 1.6)
svg.append('path').datum(cciTrend).attr('d', cciLine).attr('fill', 'none')
  .attr('stroke', 'rgba(120,123,134,0.45)').attr('stroke-width', 1.6)
svg.append('g').selectAll('path').data(d3.pairs(cci)).join('path')
  .attr('d', d => cciLine(d))
  .attr('fill', 'none').attr('stroke-width', 3.6).attr('stroke-linecap', 'round')
  .attr('stroke', d => d[1][1] < 0 ? '#f98a82' : '#8cca8e')

// stochastic pane
const stochBands = [[80.5, '#f23b30'], [60, '#787b86'], [50, '#787b86'], [20.2, '#4caf50']]
stochBands.forEach(b => {
  svg.append('line').attr('x1', paneLeft).attr('x2', paneRight)
    .attr('y1', yStoch(b[0])).attr('y2', yStoch(b[0]))
    .attr('stroke', b[1]).attr('stroke-width', 1.5)
})
const fastGen = d3.line().x(d => x(d[0])).y(d => yStoch(d[1]))
const slowGen = d3.line().x(d => x(d[0])).y(d => yStoch(d[1])).curve(d3.curveMonotoneX)
const stochLines = [[fastGreen, fastGen, '#5cb360'], [fastRed, fastGen, '#f2534a'], [slowGreen, slowGen, '#5cb360'], [slowRed, slowGen, '#f2534a']]
stochLines.forEach(l => {
  svg.append('path').datum(l[0]).attr('d', l[1]).attr('fill', 'none')
    .attr('stroke', l[2]).attr('stroke-width', 1.2)
})

// frame lines
svg.append('line').attr('x1', paneLeft).attr('x2', paneLeft).attr('y1', mainTop).attr('y2', mainBottom)
  .attr('stroke', '#787b86').attr('stroke-width', 1.5)
svg.append('line').attr('x1', paneLeft).attr('x2', paneLeft).attr('y1', mainBottom).attr('y2', timeBottom)
  .attr('stroke', '#b2b5be').attr('stroke-width', 1)
svg.append('line').attr('x1', paneRight).attr('x2', paneRight).attr('y1', mainTop).attr('y2', timeBottom)
  .attr('stroke', '#787b86').attr('stroke-width', 1)
;[mainBottom, cciBottom].forEach(v => {
  svg.append('line').attr('x1', outerLeft).attr('x2', outerRight).attr('y1', v).attr('y2', v)
    .attr('stroke', '#e0e3eb').attr('stroke-width', 1.5)
})
svg.append('line').attr('x1', outerLeft).attr('x2', outerRight).attr('y1', stochBottom).attr('y2', stochBottom)
  .attr('stroke', '#787b86').attr('stroke-width', 1.2)

// axes
function styleAxis(g) {
  g.select('.domain').remove()
  g.selectAll('.tick line').remove()
  g.selectAll('.tick text').attr('fill', '#131722').style('font-size', '12.5px').style('font-family', 'Roboto')
}
svg.append('g').attr('transform', `translate(${paneRight + 6},0)`)
  .call(d3.axisRight(y).tickValues(priceTicks).tickFormat(d => d.toFixed(3)).tickSize(0).tickPadding(0))
  .call(styleAxis)
svg.append('g').attr('transform', `translate(${paneRight + 6},0)`)
  .call(d3.axisRight(yCci).tickValues(cciTicks).tickFormat(d => d.toFixed(3)).tickSize(0).tickPadding(0))
  .call(styleAxis)
svg.append('g').attr('transform', `translate(${paneRight + 6},0)`)
  .call(d3.axisRight(yStochRight).tickValues(stochRightTicks).tickFormat(d => d.toFixed(2)).tickSize(0).tickPadding(0))
  .call(styleAxis)
svg.append('g').attr('transform', `translate(${paneLeft - 9},0)`)
  .call(d3.axisLeft(yStoch).tickValues(stochLeftTicks).tickFormat(d => d.toFixed(2)).tickSize(0).tickPadding(0))
  .call(styleAxis)
svg.append('g').attr('transform', 'translate(-1,1215)')
  .call(d3.axisBottom(x).tickValues(timeBars).tickFormat((d, i) => timeLabels[i]).tickSize(0).tickPadding(0))
  .call(styleAxis)
  .call(g => g.selectAll('.tick text').style('font-weight', (d, i) => isNaN(timeLabels[i]) ? 700 : 400))

svg.append('text').attr('x', 2124).attr('y', 44).attr('dy', '0.35em').attr('text-anchor', 'middle')
  .style('font-size', '12px').attr('fill', '#131722').text('JPY')

// last price label
svg.append('rect').attr('x', paneRight).attr('y', 777).attr('width', 60).attr('height', 40).attr('fill', '#ff0000')
svg.append('text').attr('x', paneRight + 30).attr('y', 786).attr('dy', '0.35em').attr('text-anchor', 'middle')
  .style('font-size', '12.5px').attr('fill', '#fff').text(lastPrice.toFixed(3))
svg.append('text').attr('x', paneRight + 30).attr('y', 799).attr('dy', '0.35em').attr('text-anchor', 'middle')
  .style('font-size', '12.5px').attr('fill', '#fff').text('01:33:53')

// corner buttons
;[[37.5, 'Z'], [2133, 'A']].forEach(b => {
  svg.append('rect').attr('x', b[0] - 9).attr('y', 1209).attr('width', 18).attr('height', 20).attr('rx', 9).attr('fill', '#f0f3fa')
  svg.append('text').attr('x', b[0]).attr('y', 1219).attr('dy', '0.35em').attr('text-anchor', 'middle')
    .style('font-size', '11.5px').attr('fill', '#787b86').text(b[1])
})

// header and footer
svg.append('text').attr('x', 10).attr('y', 17).attr('dy', '0.35em')
  .style('font-size', '13px').attr('fill', '#d1d4dc')
  .text('Tickmill published on TradingView.com, Dec 15, 2023 03:26 UTC-5')
svg.append('path').attr('d', 'M10,1246H20V1258H15V1250H10ZM22,1246H29L25,1258H20Z').attr('fill', '#d1d4dc')
svg.append('text').attr('x', 33).attr('y', 1251.5).attr('dy', '0.35em')
  .style('font-size', '14.5px').attr('fill', '#d1d4dc').text('TradingView')
</script>
</body>
</html>
